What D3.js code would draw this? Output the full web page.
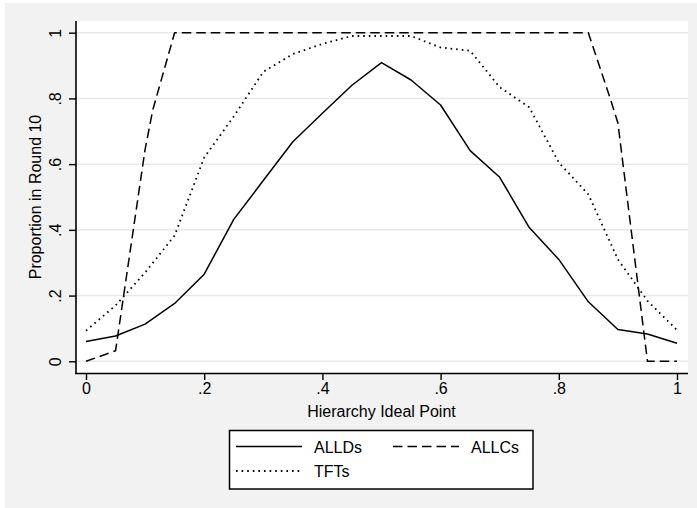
<!DOCTYPE html>
<html>
<head>
<meta charset="utf-8">
<script src="https://cdn.jsdelivr.net/npm/d3@7"></script>
<style>
  html, body { margin: 0; padding: 0; background: #ffffff; }
  svg { display: block; }
  text { font-family: "Liberation Sans", Arial, Helvetica, sans-serif; fill: #000; }
</style>
</head>
<body>
<svg id="chart" width="697" height="508"></svg>
<script>
// ---- data ----
const xValues = [0, 0.05, 0.1, 0.15, 0.2, 0.25, 0.3, 0.35, 0.4, 0.45, 0.5,
                 0.55, 0.6, 0.65, 0.7, 0.75, 0.8, 0.85, 0.9, 0.95, 1];
const alldsValues = [0.06, 0.077, 0.113, 0.176, 0.265, 0.432, 0.55, 0.668, 0.755, 0.84, 0.909,
                     0.856, 0.78, 0.641, 0.56, 0.407, 0.31, 0.181, 0.097, 0.083, 0.055];
const tftsValues = [0.093, 0.17, 0.27, 0.383, 0.62, 0.745, 0.881, 0.935, 0.966, 0.99, 0.99,
                    0.99, 0.955, 0.945, 0.834, 0.773, 0.605, 0.508, 0.31, 0.184, 0.095];
const allcsX = [0, 0.05, 0.1, 0.113, 0.15, 0.2, 0.25, 0.3, 0.35, 0.4, 0.45, 0.5,
                0.55, 0.6, 0.65, 0.7, 0.75, 0.8, 0.85, 0.887, 0.9, 0.95, 1];
const allcsValues = [0, 0.032, 0.645, 0.765, 1, 1, 1, 1, 1, 1, 1, 1,
                     1, 1, 1, 1, 1, 1, 1, 0.80, 0.725, 0, 0];
const xTicks = [0, 0.2, 0.4, 0.6, 0.8, 1];
const xTickLabels = ["0", ".2", ".4", ".6", ".8", "1"];
const yTicks = [0, 0.2, 0.4, 0.6, 0.8, 1];
const yTickLabels = ["0", ".2", ".4", ".6", ".8", "1"];
const xTitle = "Hierarchy Ideal Point";
const yTitle = "Proportion in Round 10";
const legendLabels = ["ALLDs", "ALLCs", "TFTs"];

// ---- layout ----
const svg = d3.select("#chart");
const W = 697, H = 508;
const plot = { left: 75, top: 21, right: 688, bottom: 373 };
const x = d3.scaleLinear().domain([0, 1]).range([86, 677]);
const y = d3.scaleLinear().domain([0, 1]).range([361.3, 32.7]);
const fontSize = 16;
const fontFam = '"Liberation Sans", Arial, sans-serif';

// outer background
svg.append("rect").attr("x", 5).attr("y", 3).attr("width", W - 5).attr("height", H - 3)
  .attr("fill", "#f2f2f2");
// plot region
svg.append("rect").attr("x", plot.left).attr("y", plot.top)
  .attr("width", plot.right - plot.left).attr("height", plot.bottom - plot.top)
  .attr("fill", "#ffffff");

// gridlines
svg.append("g").selectAll("line").data(yTicks).join("line")
  .attr("x1", plot.left + 1).attr("x2", plot.right)
  .attr("y1", d => y(d)).attr("y2", d => y(d))
  .attr("stroke", "#e9e9e9").attr("stroke-width", 1.5);

// lines
const clipId = "plotclip";
svg.append("clipPath").attr("id", clipId).append("rect")
  .attr("x", plot.left).attr("y", plot.top).attr("width", plot.right - plot.left).attr("height", plot.bottom - plot.top);

const lineGen = d3.line().x(d => x(d[0])).y(d => y(d[1]));
const series = [
  { name: "ALLDs", pts: xValues.map((v, i) => [v, alldsValues[i]]), dash: null },
  { name: "ALLCs", pts: allcsX.map((v, i) => [v, allcsValues[i]]), dash: "9.5,5" },
  { name: "TFTs", pts: xValues.map((v, i) => [v, tftsValues[i]]), dash: "1.6,4" }
];
const lg = svg.append("g").attr("clip-path", `url(#${clipId})`);
series.forEach(s => {
  lg.append("path").datum(s.pts)
    .attr("d", lineGen)
    .attr("fill", "none")
    .attr("stroke", "#000")
    .attr("stroke-width", s.name === "TFTs" ? 1.8 : 1.5)
    .attr("stroke-dasharray", s.dash)
    .attr("stroke-linejoin", "round");
});

// axes
const xAxis = d3.axisBottom(x).tickValues(xTicks)
  .tickFormat((d, i) => xTickLabels[i]).tickSize(7).tickPadding(3);
const gx = svg.append("g").attr("transform", `translate(0,${plot.bottom})`).call(xAxis);
gx.select(".domain").attr("d", `M${plot.left},0.5H${plot.right}`).attr("stroke", "#000").attr("stroke-width", 1.6);
gx.selectAll(".tick line").attr("stroke", "#000").attr("stroke-width", 1.4);
gx.selectAll(".tick text").attr("font-size", fontSize).attr("font-family", fontFam)
  .attr("y", 10).attr("dy", "0.71em");

const yAxis = d3.axisLeft(y).tickValues(yTicks)
  .tickFormat((d, i) => yTickLabels[i]).tickSize(7).tickPadding(3);
const gy = svg.append("g").attr("transform", `translate(${plot.left + 1},0)`).call(yAxis);
gy.select(".domain").attr("d", `M0,${plot.top}V${plot.bottom}`).attr("stroke", "#000").attr("stroke-width", 1.6);
gy.selectAll(".tick line").attr("stroke", "#000").attr("stroke-width", 1.4);
gy.selectAll(".tick text")
  .attr("font-size", fontSize).attr("font-family", fontFam)
  .attr("x", null).attr("dy", null)
  .attr("text-anchor", "middle")
  .attr("transform", "translate(-15.5,0) rotate(-90)");

// axis titles
svg.append("text").attr("x", (x(0) + x(1)) / 2).attr("y", 417)
  .attr("text-anchor", "middle").attr("font-size", fontSize).text(xTitle);
svg.append("text").attr("transform", `translate(41,${(plot.top + plot.bottom) / 2}) rotate(-90)`)
  .attr("text-anchor", "middle").attr("font-size", fontSize).text(yTitle);

// legend
const leg = svg.append("g");
leg.append("rect").attr("x", 229.5).attr("y", 430.5).attr("width", 303.5).attr("height", 58.5)
  .attr("fill", "#fff").attr("stroke", "#000").attr("stroke-width", 1.5);
const legItems = [
  { label: legendLabels[0], dash: null, lx: 236, ly: 446.5 },
  { label: legendLabels[1], dash: "9.5,5", lx: 393, ly: 446.5 },
  { label: legendLabels[2], dash: "1.6,4", lx: 236, ly: 471 }
];
legItems.forEach(it => {
  leg.append("line").attr("x1", it.lx).attr("x2", it.lx + 66)
    .attr("y1", it.ly).attr("y2", it.ly)
    .attr("stroke", "#000").attr("stroke-width", it.dash === "1.6,4" ? 1.8 : 1.5)
    .attr("stroke-dasharray", it.dash);
  leg.append("text").attr("x", it.lx + 78).attr("y", it.ly + 6)
    .attr("font-size", fontSize).text(it.label);
});
</script>
</body>
</html>
